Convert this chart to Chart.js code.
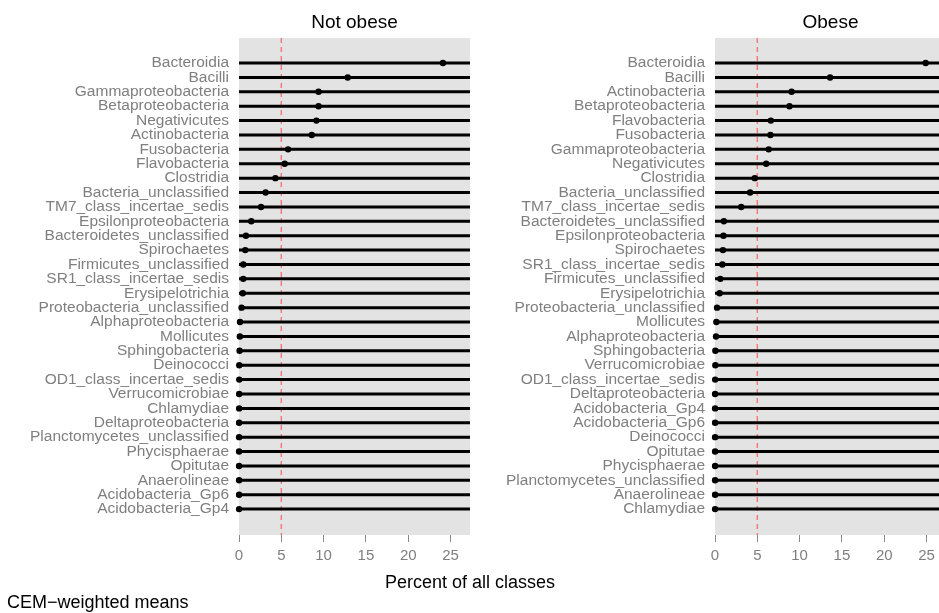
<!DOCTYPE html>
<html>
<head>
<meta charset="utf-8">
<title>CEM-weighted means</title>
<script src="https://cdn.jsdelivr.net/npm/chart.js@4.4.1/dist/chart.umd.min.js"></script>
<style>
  body { margin: 0; background: #fff; overflow: hidden; }
  #wrap { position: relative; width: 939px; height: 613px; overflow: hidden;
          font-family: "Liberation Sans", Arial, Helvetica, sans-serif; }
  canvas { position: absolute; top: 0; }
  #left { left: 0; }
  #right { left: 470px; }
  #xtitle { position: absolute; left: 0; width: 940px; top: 572px; text-align: center;
            font-size: 18px; color: #000; }
  #caption { position: absolute; left: 7px; top: 592px; font-size: 18px; color: #000; }
</style>
</head>
<body>
<div id="wrap">
  <canvas id="left" width="470" height="613"></canvas>
  <canvas id="right" width="476" height="613"></canvas>
  <div id="xtitle">Percent of all classes</div>
  <div id="caption">CEM&minus;weighted means</div>
</div>
<script>
// ---------------- DATA ----------------
// Not obese panel (top to bottom)
const notObeseClasses = [
  "Bacteroidia", "Bacilli", "Gammaproteobacteria", "Betaproteobacteria", "Negativicutes",
  "Actinobacteria", "Fusobacteria", "Flavobacteria", "Clostridia", "Bacteria_unclassified",
  "TM7_class_incertae_sedis", "Epsilonproteobacteria", "Bacteroidetes_unclassified", "Spirochaetes",
  "Firmicutes_unclassified", "SR1_class_incertae_sedis", "Erysipelotrichia", "Proteobacteria_unclassified",
  "Alphaproteobacteria", "Mollicutes", "Sphingobacteria", "Deinococci", "OD1_class_incertae_sedis",
  "Verrucomicrobiae", "Chlamydiae", "Deltaproteobacteria", "Planctomycetes_unclassified",
  "Phycisphaerae", "Opitutae", "Anaerolineae", "Acidobacteria_Gp6", "Acidobacteria_Gp4"
];
const notObeseValues = [
  24.1, 12.85, 9.4, 9.4, 9.15,
  8.6, 5.8, 5.4, 4.3, 3.15,
  2.6, 1.45, 0.82, 0.74,
  0.5, 0.5, 0.45, 0.3,
  0.12, 0.1, 0.07, 0.03, 0.03,
  0.02, 0.02, 0.01, 0.01,
  0.01, 0.01, 0.01, 0.01, 0.01
];

// Obese panel (top to bottom)
const obeseClasses = [
  "Bacteroidia", "Bacilli", "Actinobacteria", "Betaproteobacteria", "Flavobacteria",
  "Fusobacteria", "Gammaproteobacteria", "Negativicutes", "Clostridia", "Bacteria_unclassified",
  "TM7_class_incertae_sedis", "Bacteroidetes_unclassified", "Epsilonproteobacteria", "Spirochaetes",
  "SR1_class_incertae_sedis", "Firmicutes_unclassified", "Erysipelotrichia", "Proteobacteria_unclassified",
  "Mollicutes", "Alphaproteobacteria", "Sphingobacteria", "Verrucomicrobiae", "OD1_class_incertae_sedis",
  "Deltaproteobacteria", "Acidobacteria_Gp4", "Acidobacteria_Gp6", "Deinococci",
  "Opitutae", "Phycisphaerae", "Planctomycetes_unclassified", "Anaerolineae", "Chlamydiae"
];
const obeseValues = [
  24.9, 13.6, 9.05, 8.8, 6.6,
  6.55, 6.35, 6.05, 4.7, 4.15,
  3.1, 1.05, 1.0, 0.94,
  0.87, 0.63, 0.55, 0.24,
  0.16, 0.12, 0.04, 0.04, 0.02,
  0.01, 0.01, 0.01, 0.01,
  0.01, 0.01, 0.01, 0.01, 0.01
];

const xTicks = [0, 5, 10, 15, 20, 25];
const cutoff = 5;      // red dashed reference line
const xMax = 27.3;     // panel right edge (data units)
const yMin = -1.74;    // padding above first row
const yMax = 32.8;     // padding below last row

// ---------------- STYLE ----------------
Chart.defaults.font.family = '"Liberation Sans", Arial, Helvetica, sans-serif';
const GREY_TEXT = '#7f7f7f';

// fond gris du panneau
const panelBg = {
  id: 'panelBg',
  beforeDraw(chart) {
    const { ctx, chartArea: a } = chart;
    ctx.save();
    ctx.fillStyle = '#e3e3e3';
    ctx.fillRect(a.left, a.top, a.right - a.left, a.bottom - a.top);
    ctx.restore();
  }
};

// ---------------- PANELS ----------------
function makePanel(canvasId, title, classes, values, axisWidth) {
  // one segment per class, broken by a null point
  const stems = [];
  classes.forEach((c, i) => {
    stems.push({ x: 0, y: i }, { x: xMax, y: i }, { x: xMax, y: null });
  });
  const dots = values.map((v, i) => ({ x: v, y: i }));

  return new Chart(document.getElementById(canvasId), {
    type: 'scatter',
    data: {
      datasets: [
        { data: dots, pointRadius: 3.2, pointBackgroundColor: '#000', pointBorderWidth: 0, order: 0, clip: false },
        { type: 'line', data: stems, borderColor: '#000', borderWidth: 3, pointRadius: 0,
          spanGaps: false, order: 1, clip: false },
        { type: 'line', data: [{ x: cutoff, y: yMin }, { x: cutoff, y: yMax }],
          borderColor: '#f47c7c', borderWidth: 1.5, borderDash: [5, 4], pointRadius: 0, order: 2 }
      ]
    },
    options: {
      responsive: false,
      animation: false,
      events: [],
      layout: { padding: 0, autoPadding: false },
      plugins: { legend: { display: false }, tooltip: { enabled: false } },
      scales: {
        x: {
          type: 'linear', position: 'bottom', min: 0, max: xMax,
          afterBuildTicks: a => { a.ticks = xTicks.map(v => ({ value: v })); },
          afterFit: a => { a.height = 78; },
          grid: { drawOnChartArea: false, drawTicks: true, tickLength: 7, color: '#8a8a8a', lineWidth: 1 },
          border: { display: false },
          ticks: { color: GREY_TEXT, font: { size: 15 }, padding: 5, maxRotation: 0 }
        },
        xTop: {
          type: 'linear', position: 'top', min: 0, max: xMax,
          ticks: { display: false }, grid: { display: false }, border: { display: false },
          title: { display: true, text: title, color: '#000', font: { size: 19 }, padding: { top: 11, bottom: 0 } },
          afterFit: a => { a.height = 38; }
        },
        y: {
          type: 'linear', reverse: true, min: yMin, max: yMax,
          afterBuildTicks: a => { a.ticks = classes.map((c, i) => ({ value: i })); },
          afterFit: a => { a.width = axisWidth; },
          grid: { display: false }, border: { display: false },
          ticks: { callback: v => classes[v], color: GREY_TEXT, font: { size: 15.5 }, padding: 2, autoSkip: false }
        }
      }
    },
    plugins: [panelBg]
  });
}

makePanel('left', 'Not obese', notObeseClasses, notObeseValues, 239);
makePanel('right', 'Obese', obeseClasses, obeseValues, 245);
</script>
</body>
</html>
